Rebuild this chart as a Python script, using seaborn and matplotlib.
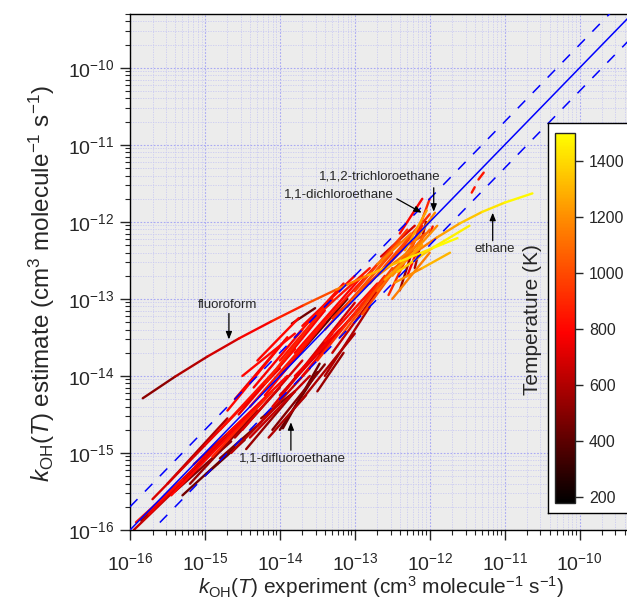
import numpy as np
import pandas as pd
import seaborn as sns
import matplotlib
matplotlib.use("Agg")
import matplotlib.pyplot as plt
from matplotlib.colors import LinearSegmentedColormap, Normalize
from matplotlib.cm import ScalarMappable
from matplotlib.ticker import LogLocator, NullFormatter

# --- data: log10 of k_OH, experiment (x) vs estimate (y), one segment per compound ---
seg_x0 = [-15.85, -15.75, -15.60, -15.40, -15.30, -15.00, -15.15, -14.80, -14.70, -15.92,
          -15.50, -14.70, -14.55, -14.50, -14.40, -14.60, -14.30, -14.45, -14.20, -14.10,
          -14.35, -14.00, -14.25, -14.00, -14.15, -13.90, -13.80, -13.70, -13.60, -13.50,
          -13.40, -13.70, -13.80, -13.40, -13.30, -13.20, -13.47, -13.50, -13.10, -12.80,
          -12.70, -12.60, -12.50, -12.40, -12.65, -12.50, -12.30, -12.20, -12.60, -13.96,
          -13.84, -12.33, -12.00, -11.44, -11.35, -12.40, -12.30, -12.55,
          -15.00, -14.80, -14.60, -14.50, -14.40, -14.20, -14.00, -13.80, -13.60, -13.30,
          -13.10, -13.00, -13.90, -15.70, -15.45, -15.20, -14.90, -14.65, -14.10, -13.70,
          -13.40, -14.30, -12.90, -12.70, -14.00, -15.95, -12.55, -12.45, -12.70]
seg_y0 = [-15.88, -15.80, -15.62, -15.50, -15.55, -15.29, -15.15, -15.07, -14.75, -15.90,
          -15.40, -14.45, -14.50, -14.70, -14.40, -14.80, -14.65, -14.95, -14.25, -14.40,
          -14.15, -13.80, -14.55, -14.70, -14.80, -14.15, -13.70, -14.00, -13.50, -13.80,
          -13.40, -13.35, -13.50, -14.00, -13.70, -13.50, -13.72, -14.20, -13.10, -12.80,
          -12.90, -12.60, -12.70, -12.15, -12.45, -13.00, -12.50, -12.60, -12.75, -14.68,
          -13.32, -12.37, -12.15, -11.62, -11.45, -12.89, -12.70, -12.55,
          -14.90, -14.70, -14.30, -14.00, -14.80, -14.10, -14.25, -14.00, -13.30, -13.25,
          -13.30, -12.90, -13.75, -15.60, -15.55, -15.40, -15.05, -15.00, -14.70, -14.30,
          -13.55, -13.80, -13.20, -12.70, -14.00, -16.00, -12.95, -12.40, -12.55]
seg_x1 = [-14.90, -14.75, -14.50, -14.65, -14.60, -14.47, -14.20, -14.25, -13.90, -15.30,
          -14.70, -13.90, -13.80, -13.70, -13.50, -14.00, -13.60, -13.80, -13.40, -13.30,
          -13.70, -13.30, -13.80, -13.50, -13.65, -13.00, -12.90, -12.80, -12.70, -12.60,
          -12.50, -13.00, -13.15, -12.80, -12.70, -12.50, -13.37, -13.15, -12.40, -12.10,
          -12.00, -12.00, -11.90, -12.10, -12.20, -12.00, -12.00, -12.05, -12.10, -13.47,
          -13.53, -12.04, -11.96, -11.40, -11.28, -12.23, -12.10, -12.25,
          -14.00, -13.80, -13.90, -13.80, -13.60, -13.40, -13.20, -13.00, -12.80, -12.50,
          -12.40, -12.30, -13.40, -15.00, -14.40, -14.30, -14.10, -14.00, -13.40, -13.00,
          -12.70, -13.75, -12.30, -12.10, -13.10, -15.10, -12.10, -12.05, -12.25]
seg_y1 = [-14.98, -14.80, -14.60, -14.85, -14.93, -14.83, -14.30, -14.60, -14.00, -15.35,
          -14.55, -13.50, -13.65, -13.80, -13.40, -14.15, -13.90, -14.20, -13.30, -13.45,
          -13.40, -13.00, -14.20, -13.95, -14.25, -13.05, -12.70, -12.95, -12.55, -12.70,
          -12.40, -12.70, -12.80, -13.10, -12.90, -12.60, -13.63, -13.70, -12.25, -12.00,
          -12.10, -11.90, -12.05, -11.70, -12.05, -12.40, -11.70, -12.00, -12.30, -13.84,
          -13.12, -11.85, -12.06, -11.55, -11.36, -12.37, -12.20, -12.25,
          -13.90, -13.65, -13.50, -13.45, -14.00, -13.10, -13.40, -13.20, -12.60, -12.50,
          -12.55, -12.10, -13.15, -14.90, -14.50, -14.45, -14.20, -14.35, -13.85, -13.45,
          -12.80, -13.25, -12.40, -12.25, -13.00, -15.20, -12.05, -12.15, -12.15]
seg_T = [550, 750, 650, 500, 450, 420, 700, 480, 800, 820,
         600, 800, 750, 700, 850, 600, 650, 550, 800, 720,
         780, 850, 500, 420, 600, 700, 800, 750, 850, 900,
         950, 800, 820, 600, 650, 1000, 220, 550, 1050, 1000,
         1100, 900, 1200, 800, 700, 1150, 900, 600, 1250, 450,
         450, 1250, 850, 850, 850, 550, 800, 950,
         750, 820, 760, 800, 650, 880, 700, 760, 850, 900,
         700, 950, 780, 700, 800, 550, 880, 620, 500, 600,
         830, 800, 1000, 1150, 420, 650, 900, 1000, 1150]

# curves with temperature changing along them
fluoroform_x = [-15.83, -15.40, -14.97, -14.54, -14.11, -13.68, -13.25, -12.82, -12.39, -11.96, -11.63]
fluoroform_y = [-14.29, -14.01, -13.75, -13.51, -13.29, -13.08, -12.88, -12.69, -12.51, -12.34, -12.21]
fluoroform_T = [480, 560, 650, 720, 820, 930, 1080, 1230, 1380, 1470, 1500]
ethane_x = [-12.50, -12.20, -11.90, -11.60, -11.30, -11.00, -10.63]
ethane_y = [-12.62, -12.40, -12.20, -12.02, -11.87, -11.75, -11.63]
ethane_T = [950, 1080, 1200, 1300, 1390, 1460, 1500]
yellow_x = [-12.43, -11.95, -11.47]
yellow_y = [-12.65, -12.33, -12.05]
yellow_T = [1300, 1420, 1500]
orange_x = [-12.47, -12.10, -11.73]
orange_y = [-12.79, -12.60, -12.40]
orange_T = [1150, 1250, 1350]
trichloro_x = [-12.47, -12.20, -11.93]
trichloro_y = [-12.63, -12.25, -11.88]
trichloro_T = [1000, 1150, 1250]

x_ticks = [1e-16, 1e-15, 1e-14, 1e-13, 1e-12, 1e-11, 1e-10]
cbar_ticks = [200, 400, 600, 800, 1000, 1200, 1400]

# build long table: one unit per 2-point segment
rows = []
uid = 0
for a, b, c, d, t in zip(seg_x0, seg_y0, seg_x1, seg_y1, seg_T):
    rows += [(uid, 10**a, 10**b, t), (uid, 10**c, 10**d, t)]
    uid += 1
for cx, cy, ct in [(fluoroform_x, fluoroform_y, fluoroform_T),
                   (ethane_x, ethane_y, ethane_T),
                   (yellow_x, yellow_y, yellow_T),
                   (orange_x, orange_y, orange_T),
                   (trichloro_x, trichloro_y, trichloro_T)]:
    for i in range(len(cx) - 1):
        t = (ct[i] + ct[i + 1]) / 2
        rows += [(uid, 10**cx[i], 10**cy[i], t), (uid, 10**cx[i + 1], 10**cy[i + 1], t)]
        uid += 1
df = pd.DataFrame(rows, columns=["seg", "k_exp", "k_est", "T"])

cmap = LinearSegmentedColormap.from_list(
    "temp", [(0, "black"), (0.46, "red"), (0.77, "#ff8c00"), (1, "yellow")])
norm = Normalize(180, 1500)

sns.set_style("ticks")
plt.rcParams["font.family"] = ["Liberation Sans", "DejaVu Sans"]
plt.rcParams["mathtext.fontset"] = "custom"
plt.rcParams["mathtext.rm"] = "Liberation Sans"
plt.rcParams["mathtext.it"] = "Liberation Sans:italic"

fig = plt.figure(figsize=(6.27, 6.10), dpi=100)
ax = fig.add_axes([130 / 627, 80 / 610, 502 / 627, 516 / 610])
ax.set_facecolor("#ececec")
ax.set_xscale("log")
ax.set_yscale("log")

sns.lineplot(data=df, x="k_exp", y="k_est", hue="T", units="seg", estimator=None,
             sort=False, palette=cmap, hue_norm=norm, legend=False, lw=1.7,
             solid_capstyle="round", ax=ax)

# 1:1 and factor-of-2 lines
lim = [1e-16, 5e-10]
ax.plot(lim, lim, color="#0000ff", lw=1.1, zorder=5)
for f in [2, 0.5]:
    ax.plot(lim, [f * v for v in lim], color="#0000ff", lw=1.1, ls=(0, (7, 7)), zorder=5)

ax.set_xlim(lim)
ax.set_ylim(lim)
ax.set_xticks(x_ticks)
ax.set_yticks(x_ticks)
for axis in [ax.xaxis, ax.yaxis]:
    axis.set_minor_locator(LogLocator(base=10, subs=np.arange(2, 10), numticks=20))
    axis.set_minor_formatter(NullFormatter())
ax.grid(which="major", color="#a8a8f4", ls=(0, (1.5, 1.5)), lw=0.8)
ax.grid(which="minor", color="#cacaf2", ls=(0, (1.5, 1.5)), lw=0.6)
ax.set_axisbelow(True)
ax.tick_params(which="major", direction="out", length=7, width=1, labelsize=14)
ax.tick_params(axis="x", which="major", pad=9)
ax.tick_params(axis="y", which="major", pad=4)
ax.tick_params(which="minor", direction="out", length=3.5, width=0.8)
for s in ax.spines.values():
    s.set_linewidth(1)
    s.set_color("black")

ax.set_xlabel(r"$k_{\mathrm{OH}}(T)$ experiment (cm$^{3}$ molecule$^{-1}$ s$^{-1}$)",
              fontsize=15, labelpad=0)
ax.set_ylabel(r"$k_{\mathrm{OH}}(T)$ estimate (cm$^{3}$ molecule$^{-1}$ s$^{-1}$)",
              fontsize=17.5)
ax.yaxis.set_label_coords(-0.145, 0.477)

# labelled compounds
def L(v):
    return 10 ** v

notes = [
    ("1,1,2-trichloroethane", (-12.67, -11.415), (-11.947, -11.557), (-11.947, -11.868)),
    ("1,1-dichloroethane", (-13.213, -11.648), (-12.44, -11.70), (-12.107, -11.881)),
    ("ethane", (-11.133, -12.347), (-11.16, -12.244), (-11.16, -11.881)),
    ("fluoroform", (-14.693, -13.073), (-14.68, -13.19), (-14.68, -13.526)),
    ("1,1-difluoroethane", (-13.827, -15.067), (-13.853, -14.964), (-13.853, -14.601)),
]
for txt, tpos, tail, head in notes:
    ax.text(L(tpos[0]), L(tpos[1]), txt, fontsize=9.5, ha="center", va="center", zorder=6)
    ax.annotate("", xy=(L(head[0]), L(head[1])), xytext=(L(tail[0]), L(tail[1])),
                arrowprops=dict(arrowstyle="-|>,head_length=0.45,head_width=0.18",
                                color="black", lw=0.9, shrinkA=0, shrinkB=0), zorder=6)

# colour bar inside a white box
box = fig.add_axes([548 / 627, 97 / 610, 0.2, 390 / 610])
box.set_facecolor("white")
box.set_xticks([])
box.set_yticks([])
for s in box.spines.values():
    s.set_linewidth(1)
    s.set_color("black")
cax = fig.add_axes([555 / 627, 107 / 610, 20 / 627, 370 / 610])
cb = fig.colorbar(ScalarMappable(norm=norm, cmap=cmap), cax=cax)
cb.set_ticks(cbar_ticks)
cb.outline.set_linewidth(1)
cax.tick_params(labelsize=11.5, length=6, width=1, pad=4)
fig.text(533 / 627, 1 - 320 / 610, "Temperature (K)", rotation=90, fontsize=15,
         ha="center", va="center")

fig.savefig("out.png", dpi=100)
